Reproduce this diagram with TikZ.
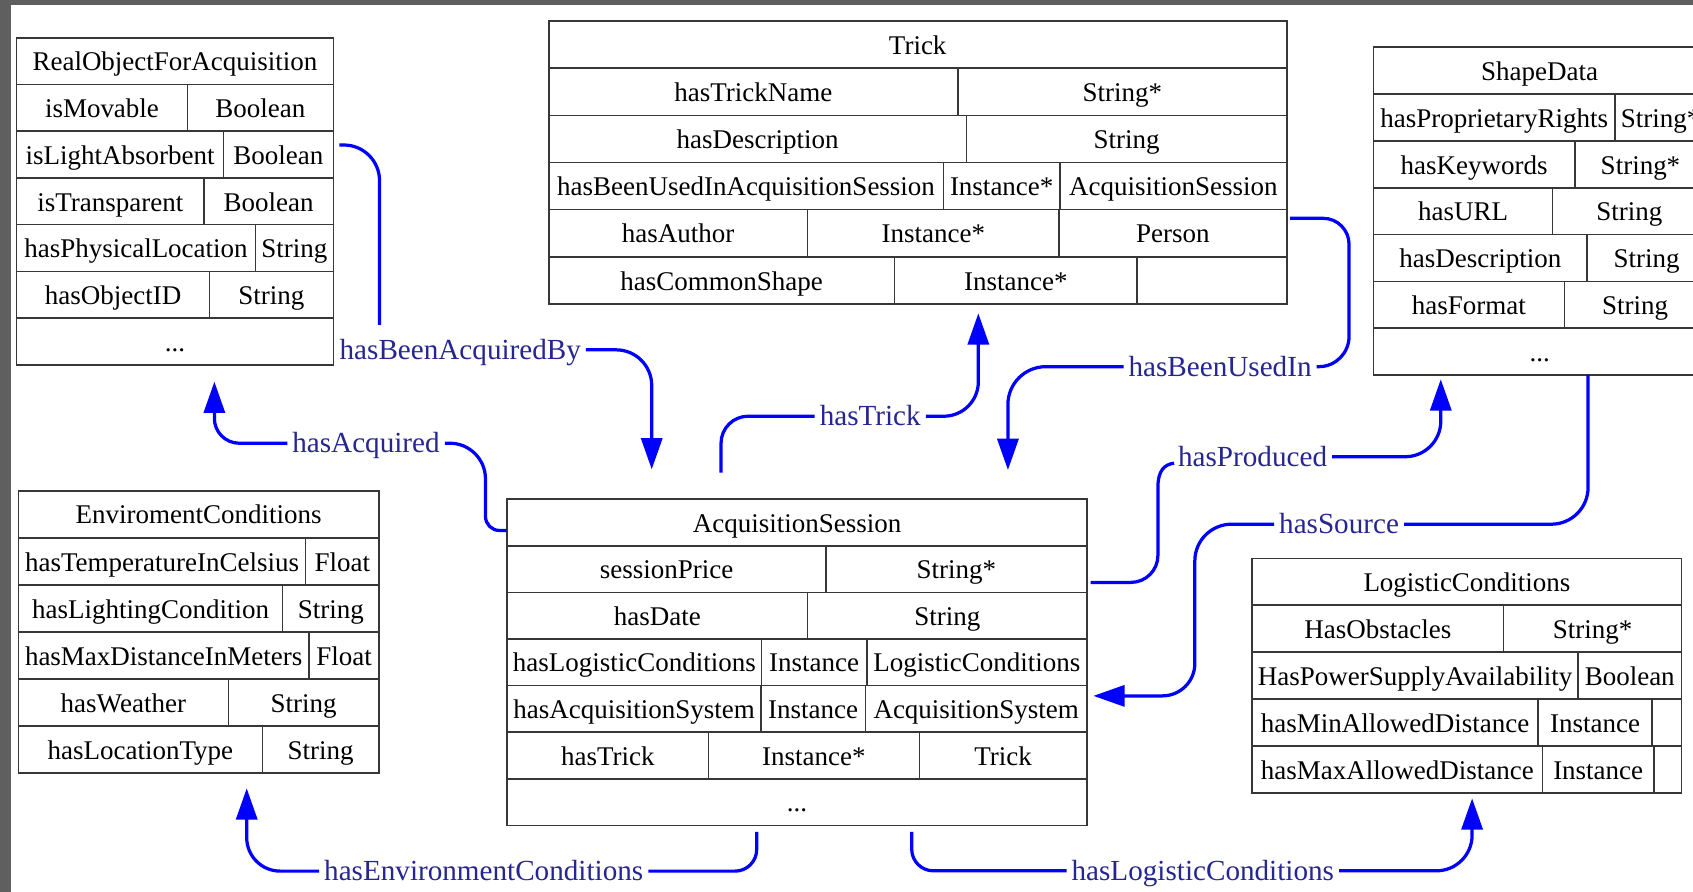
\documentclass[tikz,border=0pt]{standalone}
\usepackage{fontspec}
\setmainfont{Liberation Serif}
\usetikzlibrary{arrows.meta,calc,fit}

\definecolor{edgeblue}{RGB}{0,0,255}
\definecolor{labelblue}{RGB}{38,38,145}
\definecolor{gridline}{RGB}{55,55,55}
\definecolor{framegray}{RGB}{95,95,95}

\newcommand\boxfont{\fontsize{25}{30}\selectfont}
\newcommand\edgefont{\fontsize{27}{32}\selectfont}

% one record cell: name, left, top, right, bottom, text
\newcommand\cellbox[6]{%
  \node[cell, minimum width={#4-#2}, minimum height={#5-#3}] (#1) at (#2,#3) {#6};}

\tikzset{
  cell/.style={draw=gridline, line width=1.5pt, inner sep=0pt, outer sep=0pt,
    anchor=north west, font=\boxfont, text=black, text height=18pt, text depth=0pt},
  boxfit/.style={inner sep=0pt, outer sep=0pt},
  lbl/.style={text=labelblue, font=\edgefont, inner xsep=4.5pt, inner ysep=2pt,
    text height=17.4pt, text depth=0pt},
  rel/.style={draw=edgeblue, line width=3pt},
  arr/.style={-{Triangle[length=29pt,width=19.5pt]}},
}

\begin{document}
\begin{tikzpicture}[x=1pt, y=-1pt]
\useasboundingbox (0,0) rectangle (1568,826);
\clip (0,0) rectangle (1568,826);
\fill[framegray] (0,0) rectangle (1568,826);
\fill[white] (10.2,4.6) rectangle (1568,826);

% ---- RealObjectForAcquisition
\cellbox{R0}{15.4}{35}{308.7}{78.3}{RealObjectForAcquisition}
\cellbox{R1a}{15.4}{78.3}{173.5}{121.6}{isMovable}
\cellbox{R1b}{173.5}{78.3}{308.7}{121.6}{Boolean}
\cellbox{R2a}{15.4}{121.6}{207}{164.9}{isLightAbsorbent}
\cellbox{R2b}{207}{121.6}{308.7}{164.9}{Boolean}
\cellbox{R3a}{15.4}{164.9}{189}{208.1}{isTransparent}
\cellbox{R3b}{189}{164.9}{308.7}{208.1}{Boolean}
\cellbox{R4a}{15.4}{208.1}{236.5}{251.4}{hasPhysicalLocation}
\cellbox{R4b}{236.5}{208.1}{308.7}{251.4}{String}
\cellbox{R5a}{15.4}{251.4}{194}{294.7}{hasObjectID}
\cellbox{R5b}{194}{251.4}{308.7}{294.7}{String}
\cellbox{R6}{15.4}{294.7}{308.7}{338}{...}
\node[boxfit, fit=(R0)(R6)] (R) {};

% ---- Trick
\cellbox{T0}{508.2}{19.5}{1191.7}{63.2}{Trick}
\cellbox{T1a}{508.2}{63.2}{887.1}{106.9}{hasTrickName}
\cellbox{T1b}{887.1}{63.2}{1191.7}{106.9}{String*}
\cellbox{T2a}{508.2}{106.9}{895.2}{150.5}{hasDescription}
\cellbox{T2b}{895.2}{106.9}{1191.7}{150.5}{String}
\cellbox{T3a}{508.2}{150.5}{873.7}{194.2}{hasBeenUsedInAcquisitionSession}
\cellbox{T3b}{873.7}{150.5}{981.8}{194.2}{Instance*}
\cellbox{T3c}{981.8}{150.5}{1191.7}{194.2}{AcquisitionSession}
\cellbox{T4a}{508.2}{194.2}{748}{237.9}{hasAuthor}
\cellbox{T4b}{748}{194.2}{981}{237.9}{Instance*}
\cellbox{T4c}{981}{194.2}{1191.7}{237.9}{Person}
\cellbox{T5a}{508.2}{237.9}{828.3}{281.6}{hasCommonShape}
\cellbox{T5b}{828.3}{237.9}{1053.3}{281.6}{Instance*}
\cellbox{T5c}{1053.3}{237.9}{1191.7}{281.6}{}
\node[boxfit, fit=(T0)(T5a)(T5c)] (T) {};

% ---- ShapeData
\cellbox{S0}{1272}{43.8}{1580}{87.2}{ShapeData}
\cellbox{S1a}{1272}{87.2}{1495.8}{130.5}{hasProprietaryRights}
\cellbox{S1b}{1495.8}{87.2}{1580}{130.5}{String*}
\cellbox{S2a}{1272}{130.5}{1458.7}{173.9}{hasKeywords}
\cellbox{S2b}{1458.7}{130.5}{1580}{173.9}{String*}
\cellbox{S3a}{1272}{173.9}{1438}{217.2}{hasURL}
\cellbox{S3b}{1438}{173.9}{1580}{217.2}{String}
\cellbox{S4a}{1272}{217.2}{1470}{260.6}{hasDescription}
\cellbox{S4b}{1470}{217.2}{1580}{260.6}{String}
\cellbox{S5a}{1272}{260.6}{1448.8}{304.0}{hasFormat}
\cellbox{S5b}{1448.8}{260.6}{1580}{304.0}{String}
\cellbox{S6}{1272}{304.0}{1580}{347.3}{...}
\node[boxfit, fit=(S0)(S6)] (S) {};

% ---- EnviromentConditions
\cellbox{E0}{17}{454.5}{351}{498.1}{EnviromentConditions}
\cellbox{E1a}{17}{498.1}{283.1}{541.7}{hasTemperatureInCelsius}
\cellbox{E1b}{283.1}{498.1}{351}{541.7}{Float}
\cellbox{E2a}{17}{541.7}{261.8}{585.4}{hasLightingCondition}
\cellbox{E2b}{261.8}{541.7}{351}{585.4}{String}
\cellbox{E3a}{17}{585.4}{286.2}{629.0}{hasMaxDistanceInMeters}
\cellbox{E3b}{286.2}{585.4}{351}{629.0}{Float}
\cellbox{E4a}{17}{629.0}{211.5}{672.6}{hasWeather}
\cellbox{E4b}{211.5}{629.0}{351}{672.6}{String}
\cellbox{E5a}{17}{672.6}{243}{716.2}{hasLocationType}
\cellbox{E5b}{243}{672.6}{351}{716.2}{String}
\node[boxfit, fit=(E0)(E5a)(E5b)] (E) {};

% ---- AcquisitionSession
\cellbox{A0}{469.8}{462.3}{1006.6}{505.5}{AcquisitionSession}
\cellbox{A1a}{469.8}{505.5}{765}{548.6}{sessionPrice}
\cellbox{A1b}{765}{505.5}{1006.6}{548.6}{String*}
\cellbox{A2a}{469.8}{548.6}{748}{591.8}{hasDate}
\cellbox{A2b}{748}{548.6}{1006.6}{591.8}{String}
\cellbox{A3a}{469.8}{591.8}{705.3}{634.9}{hasLogisticConditions}
\cellbox{A3b}{705.3}{591.8}{802.8}{634.9}{Instance}
\cellbox{A3c}{802.8}{591.8}{1006.6}{634.9}{LogisticConditions}
\cellbox{A4a}{469.8}{634.9}{704.6}{678.1}{hasAcquisitionSystem}
\cellbox{A4b}{704.6}{634.9}{801.7}{678.1}{Instance}
\cellbox{A4c}{801.7}{634.9}{1006.6}{678.1}{AcquisitionSystem}
\cellbox{A5a}{469.8}{678.1}{656.2}{721.3}{hasTrick}
\cellbox{A5b}{656.2}{678.1}{851.5}{721.3}{Instance*}
\cellbox{A5c}{851.5}{678.1}{1006.6}{721.3}{Trick}
\cellbox{A6}{469.8}{721.3}{1006.6}{764.4}{...}
\node[boxfit, fit=(A0)(A6)] (A) {};

% ---- LogisticConditions
\cellbox{L0}{1159.8}{517.1}{1557.5}{560.5}{LogisticConditions}
\cellbox{L1a}{1159.8}{560.5}{1392.3}{604.0}{HasObstacles}
\cellbox{L1b}{1392.3}{560.5}{1557.5}{604.0}{String*}
\cellbox{L2a}{1159.8}{604.0}{1461.3}{647.4}{HasPowerSupplyAvailability}
\cellbox{L2b}{1461.3}{604.0}{1557.5}{647.4}{Boolean}
\cellbox{L3a}{1159.8}{647.4}{1424.4}{690.8}{hasMinAllowedDistance}
\cellbox{L3b}{1424.4}{647.4}{1530.2}{690.8}{Instance}
\cellbox{L3c}{1530.2}{647.4}{1557.5}{690.8}{}
\cellbox{L4a}{1159.8}{690.8}{1428.6}{734.2}{hasMaxAllowedDistance}
\cellbox{L4b}{1428.6}{690.8}{1531.8}{734.2}{Instance}
\cellbox{L4c}{1531.8}{690.8}{1557.5}{734.2}{}
\node[boxfit, fit=(L0)(L4a)(L4c)] (L) {};

% ---- relation labels
\node[lbl] (lab1) at (426.3,324) {hasBeenAcquiredBy};
\node[lbl] (lab2) at (339,410.5) {hasAcquired};
\node[lbl] (lab3) at (806,385.5) {hasTrick};
\node[lbl] (lab4) at (1130,339.6) {hasBeenUsedIn};
\node[lbl] (lab5) at (1160.1,423) {hasProduced};
\node[lbl] (lab6) at (1240.2,485.5) {hasSource};
\node[lbl] (lab7) at (448,806.8) {hasEnvironmentConditions};
\node[lbl] (lab8) at (1114,806.5) {hasLogisticConditions};

% ---- connector ends and bends
\coordinate (r1-out) at ($(R.north east)+(5.5,99.3)$);
\coordinate (r1-in)  at ($(lab1.north)+(-74.8,-12.2)$);
\coordinate (a1-tip) at ($(A.north west)+(133.8,-27.6)$);
\coordinate (a2-out) at ($(A.north west)+(-0.5,29)$);
\coordinate (p2)     at ($(lab2.east)+(37.7,0)$);
\coordinate (r2-tip) at ($(R.south)+(36.5,15.5)$);
\coordinate (a3-out) at ($(A.north west)+(198,-24.5)$);
\coordinate (t3-tip) at ($(T.south west)+(397.9,8.6)$);
\coordinate (t4-out) at ($(T.north east)+(3.1,182.7)$);
\coordinate (p4)     at ($(lab4.east)+(30,0)$);
\coordinate (a4-tip) at ($(A.north west)+(463.7,-27)$);
\coordinate (a5-out) at ($(A.north east)+(3.6,77.1)$);
\coordinate (p5)     at ($(lab5.west)+(-14,28)$);
\coordinate (s5-tip) at ($(S.south west)+(62.4,4)$);
\coordinate (s6-out) at ($(S.south west)+(198.8,0)$);
\coordinate (a6-tip) at ($(A.north east)+(6,182.2)$);
\coordinate (p6)     at ($(a6-tip)+(94,0)$);
\coordinate (a7-out) at ($(A.south west)+(231,6)$);
\coordinate (e7-tip) at ($(E.south west)+(211.5,13.9)$);
\coordinate (a8-out) at ($(A.south west)+(374.6,6)$);
\coordinate (l8-tip) at ($(L.south west)+(203.6,5.2)$);

% ---- connectors
% hasBeenAcquiredBy
\draw[rel, rounded corners=33pt] (r1-out) -| (r1-in);
\draw[rel, arr, rounded corners=33pt] (lab1.east) -| (a1-tip);
% hasAcquired
\draw[rel] (a2-out) [rounded corners=13pt] -- (a2-out -| p2)
  [rounded corners=33pt] -- (p2) -- (lab2.east);
\draw[rel, arr, rounded corners=23pt] (lab2.west) -| (r2-tip);
% hasTrick
\draw[rel, rounded corners=25pt] (a3-out) |- (lab3.west);
\draw[rel, arr, rounded corners=32pt] (lab3.east) -| (t3-tip);
% hasBeenUsedIn
\draw[rel] (t4-out) [rounded corners=24pt] -- (t4-out -| p4)
  [rounded corners=28pt] -- (p4) -- (lab4.east);
\draw[rel, arr, rounded corners=35pt] (lab4.west) -| (a4-tip);
% hasProduced
\draw[rel] (a5-out) [rounded corners=25pt] -- (a5-out -| p5)
  [sharp corners] -- (p5)
  .. controls ($(lab5.west)+(-14,13)$) and ($(lab5.west)+(-8,7)$) .. ($(lab5.west)+(1,6)$);
\draw[rel, arr, rounded corners=33pt] (lab5.east) -| (s5-tip);
% hasSource
\draw[rel, rounded corners=34pt] (s6-out) |- (lab6.east);
\draw[rel, arr] (lab6.west) [rounded corners=34pt] -- (lab6.west -| p6)
  [rounded corners=30pt] -- (p6) -- (a6-tip);
% hasEnvironmentConditions
\draw[rel, rounded corners=20pt] (a7-out) |- (lab7.east);
\draw[rel, arr, rounded corners=31pt] (lab7.west) -| (e7-tip);
% hasLogisticConditions
\draw[rel, rounded corners=20pt] (a8-out) |- (lab8.west);
\draw[rel, arr, rounded corners=33pt] (lab8.east) -| (l8-tip);
\end{tikzpicture}
\end{document}
